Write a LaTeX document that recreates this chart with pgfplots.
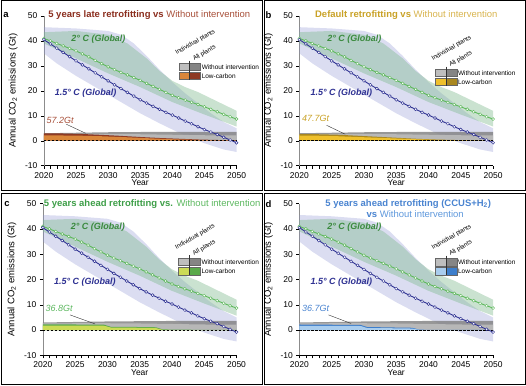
\documentclass[border=0pt]{standalone}
\usepackage{fontspec}
\setmainfont{Liberation Sans}
\usepackage{pgfplots}
\pgfplotsset{compat=1.18}
\usepgfplotslibrary{fillbetween}

\definecolor{lavC}{rgb}{0.56,0.59,0.83}
\definecolor{grnC}{rgb}{0.50,0.73,0.56}
\definecolor{blueL}{HTML}{2E3192}
\definecolor{greenL}{HTML}{5DB85B}
\definecolor{greenT}{HTML}{3A8A3E}
\definecolor{gLight}{HTML}{BEBEBE}
\definecolor{gDark}{HTML}{858585}
\definecolor{aT}{HTML}{8B2E1E}
\definecolor{aT2}{HTML}{A8503A}
\definecolor{aL}{HTML}{D9863A}
\definecolor{aD}{HTML}{8E3A24}
\definecolor{bT}{HTML}{C9A227}
\definecolor{bT2}{HTML}{D8B44E}
\definecolor{bL}{HTML}{EFC02C}
\definecolor{bD}{HTML}{A9871F}
\definecolor{cT}{HTML}{3E9E48}
\definecolor{cT2}{HTML}{5DB860}
\definecolor{cL}{HTML}{CBDB55}
\definecolor{cD}{HTML}{5AAA4A}
\definecolor{dT}{HTML}{4A84D0}
\definecolor{dT2}{HTML}{5E98DC}
\definecolor{dL}{HTML}{A9CDEE}
\definecolor{dD}{HTML}{3D7ECB}

\pgfplotsset{
 panel/.style={
  scale only axis, anchor=south west,
  xmin=2020, xmax=2050, ymin=-10, ymax=50,
  xtick={2020,2025,...,2050}, minor x tick num=4,
  ytick={-10,0,...,50},
  axis x line*=bottom, axis y line*=left,
  axis line style={-},
  y axis line style={draw=black!45},
  tick align=outside,
  major tick length=3pt, minor tick length=3pt,
  tick style={black, line width=0.4pt},
  ticklabel style={font=\fontsize{8.5}{10}\selectfont},
  /pgf/number format/assume math mode=true,
  /pgf/number format/1000 sep={},
  xlabel={Year},
  xlabel style={font=\fontsize{8.5}{10}\selectfont, at={(axis description cs:0.5,-0.115)}, anchor=center},
  ylabel={Annual CO\textsubscript{2} emissions (Gt)},
  ylabel style={font=\fontsize{9.5}{11}\selectfont, at={(axis description cs:-0.16,0.5)}, anchor=center},
  clip=false,
 }
}

\newcommand\commonbands{%
 \addplot[name path=lu, draw=none] coordinates {(2020,45.5)(2025,45)(2030,44)(2032,42.5)(2034,39)(2036,34)(2038,28.5)(2040,23.5)(2042,19)(2044,15)(2046,11)(2048,7.5)(2050,5)};
 \addplot[name path=ll, draw=none] coordinates {(2020,35)(2022,31)(2025,26)(2028,21.5)(2030,18.5)(2032,15.5)(2035,11)(2038,7)(2040,4.5)(2042,2)(2045,-1)(2048,-3.5)(2050,-4.5)};
 \addplot[fill=lavC, fill opacity=0.32, draw=none] fill between[of=lu and ll];
 \addplot[name path=gu, draw=none] coordinates {(2020,43.5)(2025,44)(2030,42.5)(2033,39)(2036,33)(2038,28)(2040,24)(2042,21.5)(2044,19.5)(2046,17)(2048,14.5)(2050,12)};
 \addplot[name path=gl, draw=none] coordinates {(2020,39)(2025,33)(2030,27)(2035,21.5)(2040,15.5)(2045,10.5)(2050,5.7)};
 \addplot[fill=grnC, fill opacity=0.42, draw=none] fill between[of=gu and gl];
 \addplot[fill=gDark, fill opacity=0.85, draw=none] coordinates {(2020,0)(2020,3.0)(2025,3.2)(2030,3.4)(2035,3.5)(2040,3.6)(2045,3.6)(2050,3.6)(2050,0)};
 \addplot[fill=gLight, fill opacity=0.85, draw=none] coordinates {(2020,0)(2020,2.6)(2025,2.7)(2030,2.7)(2035,2.6)(2040,2.4)(2045,2.2)(2050,2.1)(2050,0)};
}

\newcommand\commonlines{%
 \addplot[black, line width=1.1pt, dash pattern=on 2.5pt off 1.5pt] coordinates {(2020,0)(2050,0)};
 \addplot[greenL, line width=0.9pt, mark=*, mark size=1.5pt, mark options={fill=white, draw=greenL, line width=0.45pt}] coordinates {
 (2020,41.0)(2021,40.0)(2022,39.0)(2023,38.0)(2024,37.0)(2025,36.0)(2026,34.8)(2027,33.6)(2028,32.2)(2029,30.9)
 (2030,29.6)(2031,28.5)(2032,27.4)(2033,26.4)(2034,25.3)(2035,24.2)(2036,23.0)(2037,21.8)(2038,20.6)(2039,19.4)
 (2040,18.2)(2041,17.2)(2042,16.3)(2043,15.4)(2044,14.5)(2045,13.6)(2046,12.6)(2047,11.6)(2048,10.6)(2049,9.6)(2050,8.7)};
 \addplot[blueL, line width=0.9pt, mark=*, mark size=1.5pt, mark options={fill=white, draw=blueL, line width=0.45pt}] coordinates {
 (2020,40.5)(2021,38.8)(2022,37.1)(2023,35.4)(2024,33.7)(2025,32.0)(2026,30.4)(2027,28.8)(2028,27.2)(2029,25.6)
 (2030,24.0)(2031,22.4)(2032,20.9)(2033,19.4)(2034,17.9)(2035,16.4)(2036,15.1)(2037,13.8)(2038,12.6)(2039,11.4)
 (2040,10.3)(2041,9.1)(2042,7.9)(2043,6.8)(2044,5.6)(2045,4.5)(2046,3.5)(2047,2.5)(2048,1.4)(2049,0.3)(2050,-0.8)};
 \node[text=greenT, font=\fontsize{9}{10}\selectfont\bfseries\itshape] at (axis cs:2028.5,40.5) {2° C (Global)};
 \node[text=blueL, font=\fontsize{9}{10}\selectfont\bfseries\itshape] at (axis cs:2026.5,19) {1.5° C (Global)};
}

% #1 light colour, #2 dark colour, #3 top of gray row
\newcommand\lgnd[3]{%
 \fill[gLight] (axis cs:2041,#3) rectangle (axis cs:2042.7,{#3-3});
 \fill[gDark] (axis cs:2042.7,#3) rectangle (axis cs:2044.4,{#3-3});
 \fill[#1] (axis cs:2041,{#3-3.6}) rectangle (axis cs:2042.7,{#3-6.6});
 \fill[#2] (axis cs:2042.7,{#3-3.6}) rectangle (axis cs:2044.4,{#3-6.6});
 \draw[black!60, line width=0.3pt] (axis cs:2041,#3) rectangle (axis cs:2044.4,{#3-3});
 \draw[black!60, line width=0.3pt] (axis cs:2041,{#3-3.6}) rectangle (axis cs:2044.4,{#3-6.6});
 \draw[black!80, line width=0.45pt] (axis cs:2042.7,{#3+1.0}) -- (axis cs:2042.7,{#3-6.6});
 \node[anchor=west, font=\fontsize{6.5}{7}\selectfont, inner sep=1pt] at (axis cs:2044.4,{#3-1.5}) {Without intervention};
 \node[anchor=west, font=\fontsize{6.5}{7}\selectfont, inner sep=1pt] at (axis cs:2044.4,{#3-5.1}) {Low-carbon};
 \node[anchor=base west, rotate=30, font=\fontsize{6.2}{7}\selectfont, inner sep=0pt] at (axis cs:2040.7,{#3+3.3}) {Individual plants};
 \node[anchor=base west, rotate=30, font=\fontsize{6.2}{7}\selectfont, inner sep=0pt] at (axis cs:2043.4,{#3+0.9}) {All plants};
}

% #1 colour, #2 text, #3 text y, #4 x1, #5 y1, #6 x2, #7 y2
\newcommand\annot[7]{%
 \node[anchor=west, text=#1, font=\fontsize{9}{10}\selectfont\itshape, inner sep=0pt] at (axis cs:2020.4,#3) {#2};
 \draw[black!80, line width=0.4pt] (axis cs:#4,#5) -- (axis cs:#6,#7);
}

\begin{document}
\begin{tikzpicture}

% ---------------- a
\begin{axis}[panel, at={(43pt,220pt)}, width=193pt, height=150pt]
\commonbands
\addplot[fill=aD, draw=none] coordinates {(2020,0)(2020,3.0)(2023,2.9)(2026,2.7)(2029,2.35)(2032,1.95)(2035,1.5)(2038,1.1)(2041,0.8)(2044,0.5)(2047,0.3)(2050,0.2)(2050,0)};
\addplot[fill=aL, draw=none] coordinates {(2020,0)(2020,2.1)(2023,2.1)(2026,2.0)(2029,1.8)(2032,1.5)(2035,1.15)(2038,0.8)(2041,0.5)(2044,0.3)(2047,0.15)(2050,0.05)(2050,0)};
\commonlines
\lgnd{aL}{aD}{31.1}
\annot{aT2}{57.2Gt}{8.2}{2023.5}{6.6}{2026.5}{3.0}
\node[font=\fontsize{9.5}{11}\selectfont] at (axis description cs:0.547,1.007) {\textcolor{aT}{\textbf{5 years late retrofitting vs}} \textcolor{aT2}{Without intervention}};
\end{axis}

% ---------------- b
\begin{axis}[panel, at={(299pt,220pt)}, width=194pt, height=150pt]
\commonbands
\addplot[fill=bD, draw=none] coordinates {(2020,0)(2020,2.7)(2023,2.6)(2026,2.4)(2029,2.0)(2032,1.6)(2035,1.2)(2038,0.8)(2041,0.5)(2044,0.3)(2047,0.15)(2050,0.1)(2050,0)};
\addplot[fill=bL, draw=none] coordinates {(2020,0)(2020,2.1)(2023,2.0)(2026,1.8)(2029,1.5)(2032,1.2)(2035,0.9)(2038,0.6)(2041,0.35)(2044,0.2)(2047,0.1)(2050,0.05)(2050,0)};
\commonlines
\lgnd{bL}{bD}{28.7}
\annot{bT}{47.7Gt}{9.1}{2024.2}{6.2}{2027.1}{2.6}
\node[font=\fontsize{9.5}{11}\selectfont] at (axis description cs:0.552,1.007) {\textcolor{bT}{\textbf{Default retrofitting vs}} \textcolor{bT2}{Without intervention}};
\end{axis}

% ---------------- c
\begin{axis}[panel, at={(42pt,30pt)}, width=194pt, height=152pt]
\commonbands
\addplot[fill=cD, draw=none] coordinates {(2020,0)(2020,2.2)(2025,2.2)(2029.5,2.1)(2030.5,1.3)(2035,1.2)(2037.5,1.1)(2038.5,0.3)(2040,0.15)(2050,0.05)(2050,0)};
\addplot[fill=cL, draw=none] coordinates {(2020,0)(2020,1.8)(2025,1.8)(2029.5,1.7)(2030.5,1.0)(2035,0.9)(2037.5,0.8)(2038.5,0.1)(2040,0)(2050,0)};
\commonlines
\lgnd{cL}{cD}{28.5}
\annot{cT2}{36.8Gt}{8.4}{2024.2}{6.0}{2028.1}{2.4}
\node[font=\fontsize{9.5}{11}\selectfont] at (axis description cs:0.564,1.0) {\textcolor{cT}{\textbf{5 years ahead retrofitting vs.}} \textcolor{cT2}{Without intervention}};
\end{axis}

% ---------------- d
\begin{axis}[panel, at={(299pt,30pt)}, width=194pt, height=152pt]
\commonbands
\addplot[fill=dD, draw=none] coordinates {(2020,0)(2020,2.2)(2025,2.1)(2029.5,2.0)(2030.5,1.2)(2035,1.0)(2037.5,0.9)(2038.5,0.2)(2040,0.05)(2050,0.02)(2050,0)};
\addplot[fill=dL, draw=none] coordinates {(2020,0)(2020,1.7)(2025,1.7)(2029.5,1.6)(2030.5,0.8)(2035,0.7)(2037.5,0.6)(2038.5,0.1)(2040,0)(2050,0)};
\commonlines
\lgnd{dL}{dD}{28.4}
\annot{dT}{36.7Gt}{8.4}{2024.5}{6.0}{2028.0}{2.6}
\node[font=\fontsize{9.5}{11}\selectfont] at (axis description cs:0.562,1.0) {\textcolor{dT}{\textbf{5 years ahead retrofitting (CCUS+H\textsubscript{2})}}};
\node[font=\fontsize{9.5}{11}\selectfont] at (axis description cs:0.598,0.928) {\textcolor{dT}{\textbf{vs}} \textcolor{dT2}{Without intervention}};
\end{axis}

% panel letters
\node[font=\fontsize{9.5}{11}\selectfont\bfseries] at (5pt,371pt) {a};
\node[font=\fontsize{9.5}{11}\selectfont\bfseries] at (268pt,371pt) {b};
\node[font=\fontsize{9.5}{11}\selectfont\bfseries] at (6pt,182pt) {c};
\node[font=\fontsize{9.5}{11}\selectfont\bfseries] at (268pt,182pt) {d};

% frames
\draw[line width=0.6pt] (0.5pt,195.5pt) rectangle (261.5pt,385.5pt);
\draw[line width=0.6pt] (263.5pt,195.5pt) rectangle (525.3pt,385.5pt);
\draw[line width=0.6pt] (0.5pt,0.5pt) rectangle (261.5pt,192.5pt);
\draw[line width=0.6pt] (263.5pt,0.5pt) rectangle (525.3pt,192.5pt);
\path (0pt,0pt) rectangle (526pt,386pt);
\end{tikzpicture}
\end{document}
